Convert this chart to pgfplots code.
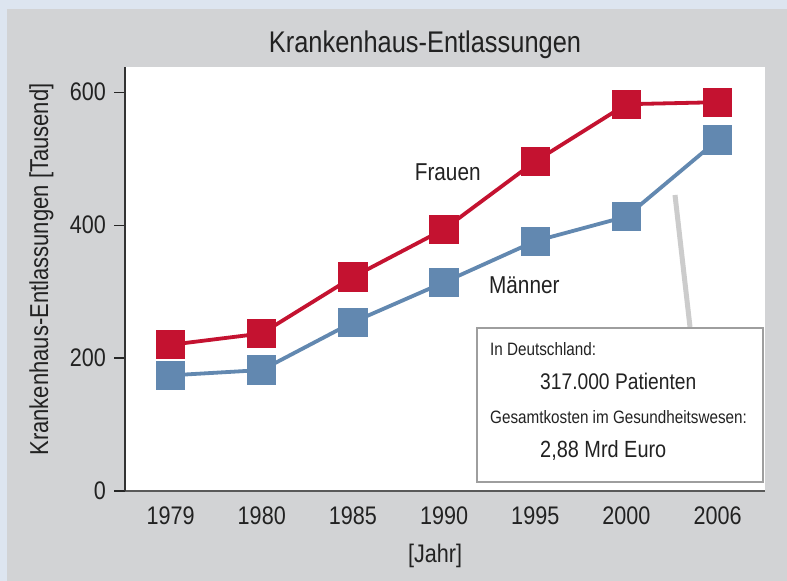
\documentclass[border=0pt]{standalone}
\usepackage{pgfplots}
\pgfplotsset{compat=1.18}
\usepackage{fontspec}
\setmainfont[FakeStretch=0.85]{Liberation Sans}
\definecolor{frau}{HTML}{C41230}
\definecolor{mann}{HTML}{6288B0}
\definecolor{panel}{HTML}{D2D3D5}
\definecolor{rim}{HTML}{DDE5F0}
\definecolor{txt}{HTML}{222222}
\begin{document}
\begin{tikzpicture}[x=1bp,y=1bp]
\fill[rim] (0,0) rectangle (787,581);
\fill[panel] (7,0) rectangle (787,572);
\begin{axis}[
  at={(125bp,90bp)}, anchor=south west,
  scale only axis, width=640bp, height=424bp,
  xmin=-0.5, xmax=6.52, ymin=0, ymax=638,
  axis background/.style={fill=white},
  axis x line*=bottom, axis y line*=left,
  x axis line style={draw=black!65, line width=2.6bp},
  y axis line style={draw=black!80, line width=1.2bp},
  xtick={0,...,6},
  xticklabels={1979,1980,1985,1990,1995,2000,2006},
  ytick={0,200,400,600},
  tick align=outside,
  major tick length=11bp,
  xtick style={draw=none},
  ytick style={draw=black!85, line width=1.3bp},
  /pgf/number format/assume math mode=true,
  ticklabel style={font=\fontsize{25.5}{27}\selectfont, text=txt, inner sep=0pt},
  xticklabel style={yshift=-4.5bp},
  yticklabel style={xshift=-8bp},
  clip=false,
]
\addplot[frau, line width=3.8bp, mark=square*, mark size=12.7bp, mark options={solid, fill=frau, draw=none}]
  coordinates {(0,220) (1,237) (2,322) (3,394) (4,496) (5,582) (6,585)};
\addplot[mann, line width=3.8bp, mark=square*, mark size=12.7bp, mark options={solid, fill=mann, draw=none}]
  coordinates {(0,174) (1,182) (2,254) (3,314) (4,376) (5,413) (6,528)};
\node[font=\fontsize{24.5}{26}\selectfont, text=txt, anchor=base] at (axis cs:3.04,467) {Frauen};
\node[font=\fontsize{24.5}{26}\selectfont, text=txt, anchor=base] at (axis cs:3.88,297) {Männer};
\end{axis}
\node[font=\fontsize{30}{32}\selectfont, text=txt, anchor=base] at (425,528.7) {Krankenhaus-Entlassungen};
\node[font=\fontsize{26}{28}\selectfont, text=txt, rotate=90, anchor=base] at (48,311.5) {Krankenhaus-Entlassungen [Tausend]};
\node[font=\fontsize{25.5}{27}\selectfont, text=txt, anchor=base] at (435,18) {[Jahr]};
\draw[black!20, line width=5bp] (675,386) -- (690,254);
\draw[fill=white, draw=black!38, line width=2bp] (477,99) rectangle (763,253);
\node[font=\fontsize{18}{19}\selectfont, text=txt, anchor=base west, inner sep=0pt] at (490,225) {In Deutschland:};
\node[font=\fontsize{22.7}{24}\selectfont, text=txt, anchor=base west, inner sep=0pt] at (540,191) {317.000 Patienten};
\node[font=\fontsize{18}{19}\selectfont, text=txt, anchor=base west, inner sep=0pt] at (490,157) {Gesamtkosten im Gesundheitswesen:};
\node[font=\fontsize{23.5}{25}\selectfont, text=txt, anchor=base west, inner sep=0pt] at (540,123) {2,88 Mrd Euro};
\end{tikzpicture}
\end{document}
